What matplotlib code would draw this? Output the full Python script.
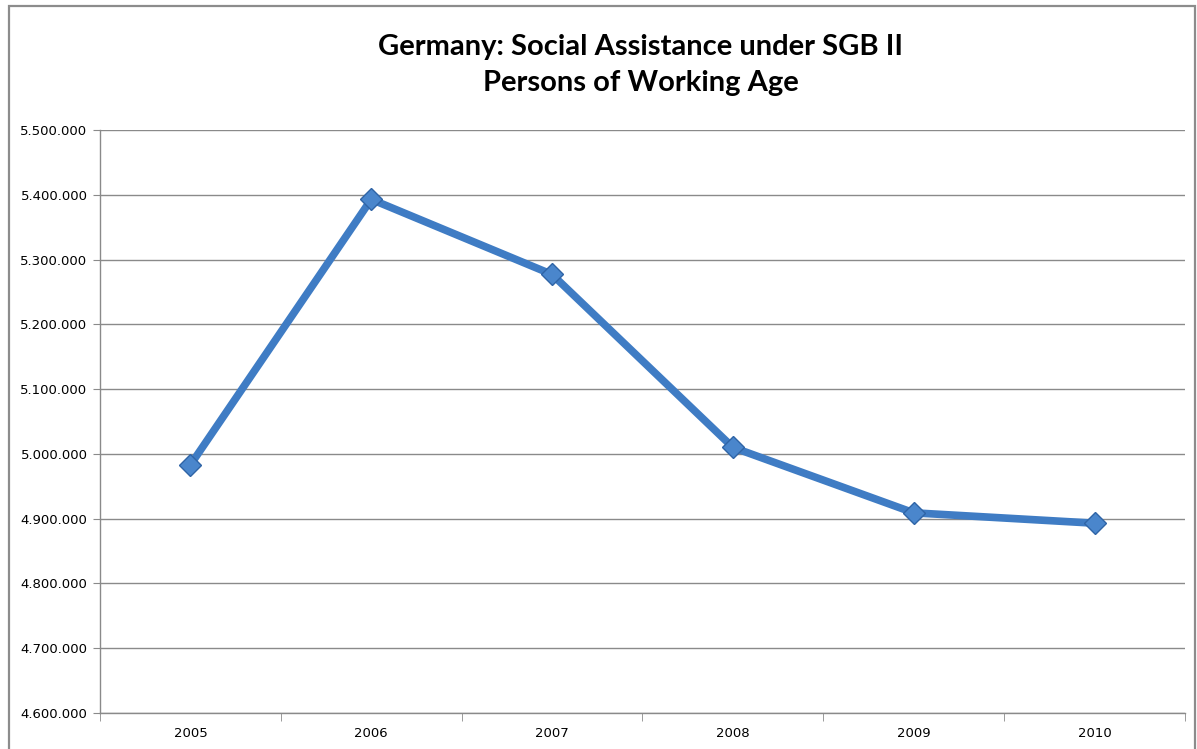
import matplotlib.pyplot as plt
from matplotlib.patches import Rectangle
from matplotlib.ticker import FuncFormatter, FixedLocator

years = ['2005', '2006', '2007', '2008', '2009', '2010']
persons = [4983000, 5393000, 5277000, 5010000, 4909000, 4893000]
y_ticks = [4600000 + 100000 * i for i in range(10)]

fig = plt.figure(figsize=(11.97, 7.49), dpi=100)
ax = fig.add_axes([100 / 1197, 1 - 713 / 749, 1085 / 1197, 583 / 749])

# outer chart frame
fig.patches.append(Rectangle((9 / 1197, -0.01), 1186 / 1197, 1 - 6 / 749 + 0.01,
                             transform=fig.transFigure, fill=False,
                             edgecolor='#8c8c8c', linewidth=1.6))

x = list(range(len(years)))
ax.plot(x, persons, color='#3f7cc4', linewidth=5.5, solid_joinstyle='miter',
        marker='D', markersize=11, markerfacecolor='#4a86cc',
        markeredgecolor='#2f64a6', markeredgewidth=1, zorder=3)

ax.set_xlim(-0.5, len(years) - 0.5)
ax.set_ylim(4600000, 5500000)
ax.set_yticks(y_ticks)
ax.yaxis.set_major_formatter(FuncFormatter(lambda v, p: f'{int(v):,}'.replace(',', '.')))
ax.grid(axis='y', color='#8a8a8a', linewidth=1)
ax.set_axisbelow(True)

ax.set_xticks(x)
ax.set_xticklabels(years)
ax.xaxis.set_minor_locator(FixedLocator([i - 0.5 for i in range(len(years) + 1)]))
ax.tick_params(axis='x', which='major', length=0, pad=10, labelsize=9.5)
ax.tick_params(axis='x', which='minor', length=6, color='#8a8a8a', direction='out')
ax.tick_params(axis='y', length=5, color='#8a8a8a', labelsize=9.5, pad=4)

for s in ['top', 'right']:
    ax.spines[s].set_visible(False)
for s in ['left', 'bottom']:
    ax.spines[s].set_color('#8a8a8a')
    ax.spines[s].set_linewidth(1)

fig.text(641 / 1197, 1 - 65 / 749, 'Germany: Social Assistance under SGB II\nPersons of Working Age',
         ha='center', va='center', fontsize=21, fontweight='bold', family='Lato',
         linespacing=1.5)

fig.savefig('out.png', dpi=100)
